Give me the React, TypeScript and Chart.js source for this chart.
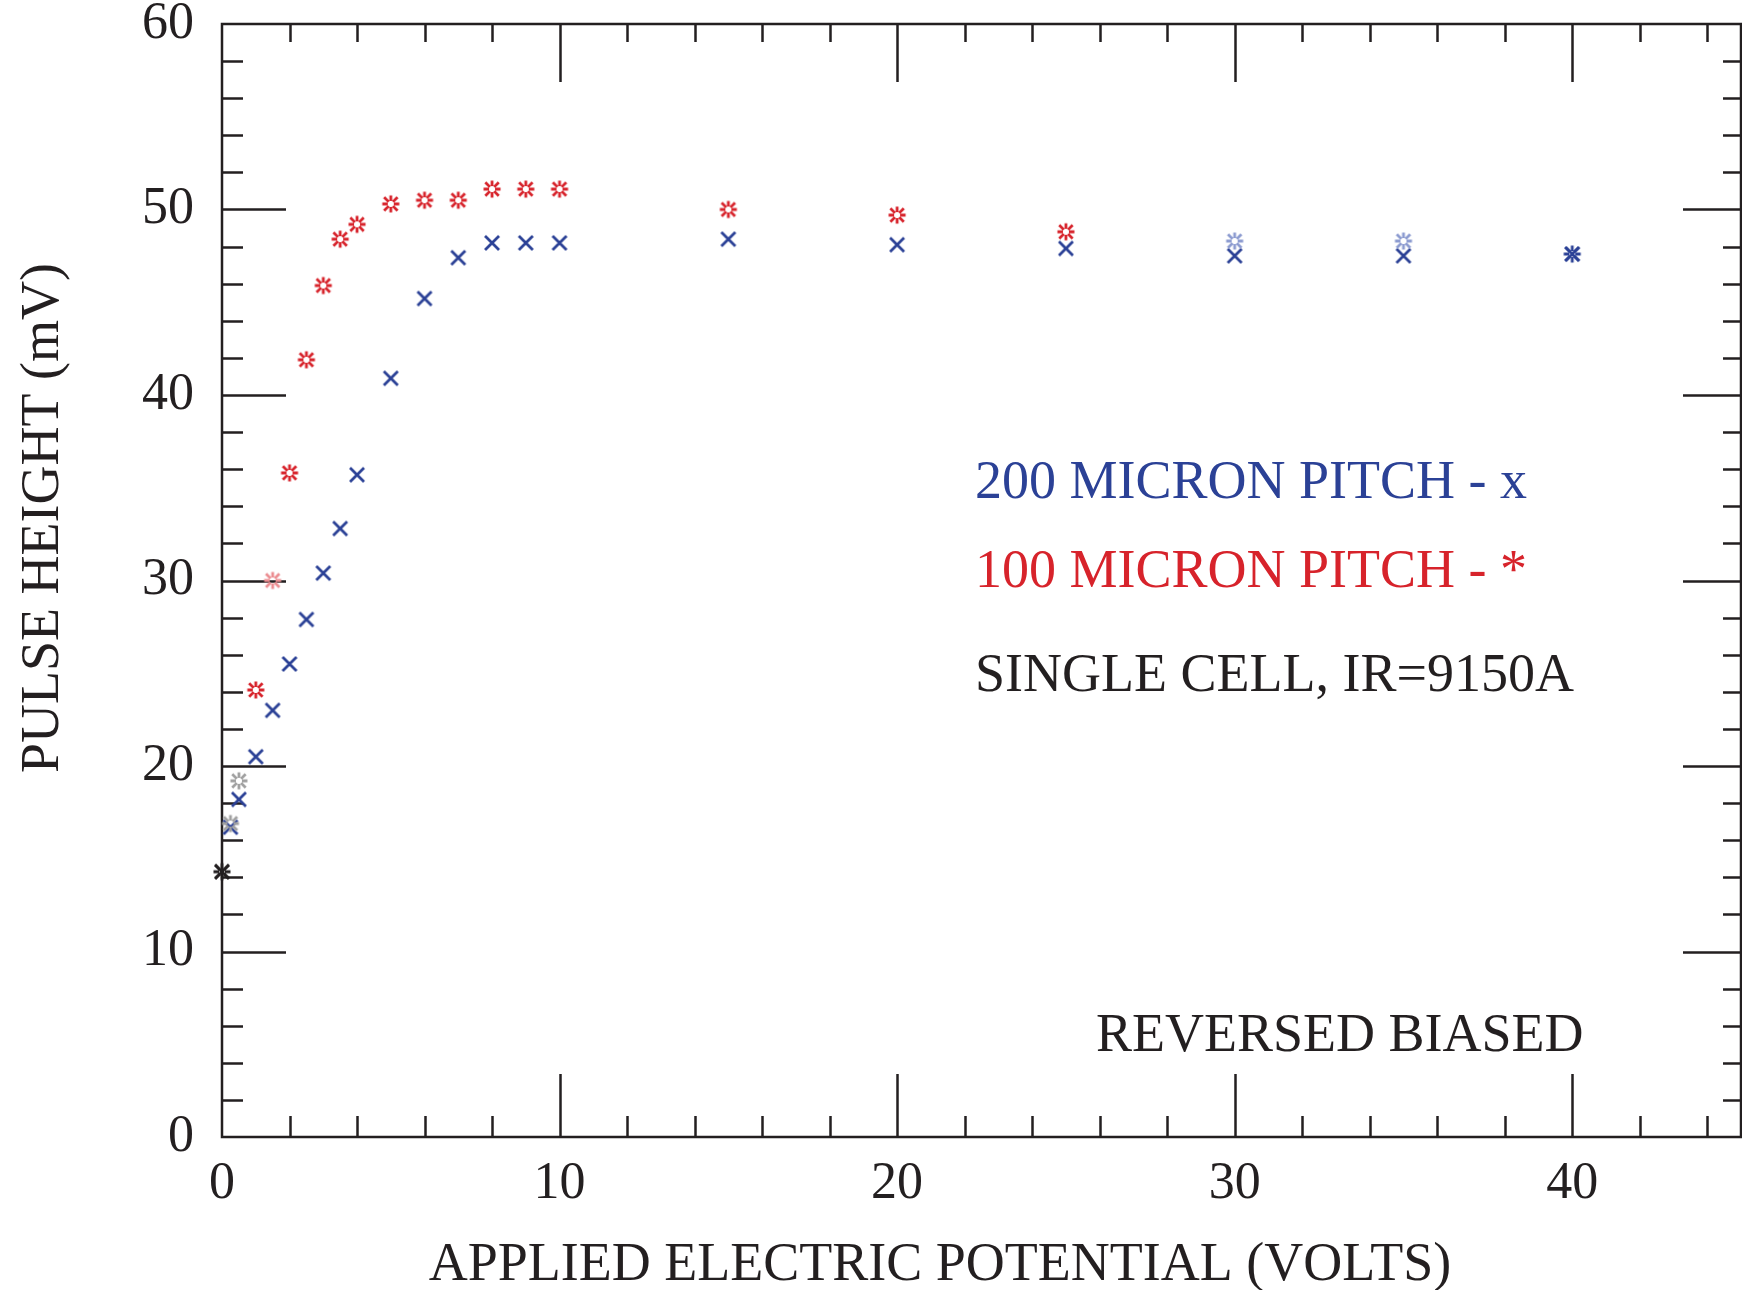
import React, { useEffect, useRef } from 'react';
import { Chart, registerables } from 'chart.js';

Chart.register(...registerables);

// ---- data ----
const VOLTS = [0, 0.25, 0.5, 1, 1.5, 2, 2.5, 3, 3.5, 4, 5, 6, 7, 8, 9, 10, 15, 20, 25, 30, 35, 40];
const PITCH_200 = [14.3, 16.7, 18.2, 20.5, 23.0, 25.5, 27.9, 30.4, 32.8, 35.7, 40.9, 45.2, 47.4, 48.2, 48.2, 48.2, 48.4, 48.1, 47.9, 47.5, 47.5, 47.6];
const PITCH_100 = [14.3, 16.9, 19.2, 24.1, 30.0, 35.8, 41.9, 45.9, 48.4, 49.2, 50.3, 50.5, 50.5, 51.1, 51.1, 51.1, 50.0, 49.7, 48.8, 48.3, 48.3, 47.6];
const X_TICKS = [0, 10, 20, 30, 40];
const Y_TICKS = [0, 10, 20, 30, 40, 50, 60];
const X_MAX = 45;
const Y_MAX = 60;
const X_TITLE = 'APPLIED ELECTRIC POTENTIAL (VOLTS)';
const Y_TITLE = 'PULSE HEIGHT (mV)';
const NOTE_200 = '200 MICRON PITCH - x';
const NOTE_100 = '100 MICRON PITCH - *';
const NOTE_CELL = 'SINGLE CELL, IR=9150A';
const NOTE_BIAS = 'REVERSED BIASED';

// ---- styles ----
const INK = '#231f20';
const BLUE = '#2b4196';
const RED = '#d7232b';
const GREY = '#a0a0a0';
const LIGHT_RED = '#eb8c90';
const LIGHT_BLUE = '#8c9bd0';
const FONT = '"Liberation Serif", "Times New Roman", serif';

const COLORS_200 = VOLTS.map((_, i) => (i === 0 ? INK : BLUE));
const COLORS_100 = VOLTS.map((_, i) => {
  if (i === 0) return INK;
  if (i === 1 || i === 2) return GREY;
  if (i === 4) return LIGHT_RED;
  if (i === 19 || i === 20) return LIGHT_BLUE;
  if (i === 21) return BLUE;
  return RED;
});

const markerCache: Record<string, HTMLCanvasElement> = {};

function makeCross(color: string): HTMLCanvasElement {
  const key = 'x' + color;
  if (markerCache[key]) return markerCache[key];
  const c = document.createElement('canvas');
  c.width = 20; c.height = 20;
  const g = c.getContext('2d')!;
  g.strokeStyle = color;
  g.lineWidth = 2.8;
  g.lineCap = 'butt';
  g.beginPath();
  g.moveTo(3, 3); g.lineTo(17, 17);
  g.moveTo(17, 3); g.lineTo(3, 17);
  g.stroke();
  markerCache[key] = c;
  return c;
}

function makeStar(color: string): HTMLCanvasElement {
  const key = 's' + color;
  if (markerCache[key]) return markerCache[key];
  const c = document.createElement('canvas');
  c.width = 20; c.height = 20;
  const g = c.getContext('2d')!;
  g.strokeStyle = color;
  g.lineWidth = 2.8;
  g.beginPath();
  for (let k = 0; k < 8; k++) {
    const a = (k * Math.PI) / 4;
    const r0 = 3;
    const r1 = k % 2 === 0 ? 8.5 : 9.5;
    g.moveTo(10 + r0 * Math.cos(a), 10 + r0 * Math.sin(a));
    g.lineTo(10 + r1 * Math.cos(a), 10 + r1 * Math.sin(a));
  }
  g.stroke();
  markerCache[key] = c;
  return c;
}

const framePlugin = {
  id: 'frame',
  beforeDatasetsDraw(chart: any) {
    const { ctx, chartArea: a, scales } = chart;
    const x = scales.x;
    const y = scales.y;
    ctx.save();
    ctx.strokeStyle = INK;
    ctx.lineWidth = 2.5;
    ctx.strokeRect(a.left, a.top, a.right - a.left, a.bottom - a.top);
    ctx.beginPath();
    for (let v = 2; v < X_MAX; v += 2) {
      const px = Math.round(x.getPixelForValue(v)) + 0.5;
      const major = v % 10 === 0;
      ctx.moveTo(px, a.bottom);
      ctx.lineTo(px, a.bottom - (major ? 63 : 21));
      ctx.moveTo(px, a.top);
      ctx.lineTo(px, a.top + (major ? 58 : 18));
    }
    for (let v = 2; v < Y_MAX; v += 2) {
      const py = Math.round(y.getPixelForValue(v)) + 0.5;
      const major = v % 10 === 0;
      ctx.moveTo(a.left, py);
      ctx.lineTo(a.left + (major ? 64 : 21), py);
      ctx.moveTo(a.right, py);
      ctx.lineTo(a.right - (major ? 58 : 18), py);
    }
    ctx.stroke();
    ctx.restore();
  },
  afterDraw(chart: any) {
    const { ctx } = chart;
    ctx.save();
    ctx.font = `54px ${FONT}`;
    ctx.textBaseline = 'alphabetic';
    ctx.fillStyle = INK;
    ctx.textAlign = 'center';
    ctx.fillText(X_TITLE, 940, 1280);
    ctx.save();
    ctx.translate(58, 518);
    ctx.rotate(-Math.PI / 2);
    ctx.fillText(Y_TITLE, 0, 0);
    ctx.restore();
    ctx.textAlign = 'left';
    ctx.fillStyle = BLUE;
    ctx.fillText(NOTE_200, 975, 498);
    ctx.fillStyle = RED;
    ctx.fillText(NOTE_100, 975, 587);
    ctx.fillStyle = INK;
    ctx.fillText(NOTE_CELL, 975, 691);
    ctx.fillText(NOTE_BIAS, 1096, 1051);
    ctx.restore();
  },
};

export default function App() {
  const ref = useRef<HTMLCanvasElement | null>(null);
  useEffect(() => {
    if (!ref.current) return;
    const chart = new Chart(ref.current, {
      type: 'scatter',
      data: {
        datasets: [
          {
            label: '100 MICRON PITCH',
            data: VOLTS.map((v, i) => ({ x: v, y: PITCH_100[i] })),
            pointStyle: (c: any) => makeStar(COLORS_100[c.dataIndex] || RED),
            pointRadius: 10,
            showLine: false,
            clip: false,
          } as any,
          {
            label: '200 MICRON PITCH',
            data: VOLTS.map((v, i) => ({ x: v, y: PITCH_200[i] })),
            pointStyle: (c: any) => makeCross(COLORS_200[c.dataIndex] || BLUE),
            pointRadius: 10,
            showLine: false,
            clip: false,
          } as any,
        ],
      },
      options: {
        animation: false,
        responsive: false,
        devicePixelRatio: 1,
        layout: { autoPadding: false, padding: { top: 24, right: 1, left: 0, bottom: 0 } },
        plugins: { legend: { display: false }, tooltip: { enabled: false } },
        scales: {
          x: {
            type: 'linear',
            position: 'bottom',
            min: 0,
            max: X_MAX,
            grid: { display: false, drawTicks: false },
            border: { display: false },
            afterBuildTicks: (s: any) => { s.ticks = X_TICKS.map((v) => ({ value: v })); },
            afterFit: (s: any) => {
              s.height = 153;
              s.paddingLeft = 0; s.paddingRight = 0; s.paddingTop = 0; s.paddingBottom = 0;
            },
            ticks: {
              color: INK,
              font: { family: FONT, size: 52 },
              padding: 16,
              maxRotation: 0,
              autoSkip: false,
            },
          },
          y: {
            type: 'linear',
            position: 'left',
            min: 0,
            max: Y_MAX,
            grid: { display: false, drawTicks: false },
            border: { display: false },
            afterBuildTicks: (s: any) => { s.ticks = Y_TICKS.map((v) => ({ value: v })); },
            afterFit: (s: any) => {
              s.width = 222;
              s.paddingLeft = 0; s.paddingRight = 0; s.paddingTop = 0; s.paddingBottom = 0;
            },
            ticks: {
              color: INK,
              font: { family: FONT, size: 52 },
              padding: 28,
              autoSkip: false,
            },
          },
        },
      } as any,
      plugins: [framePlugin],
    });
    return () => chart.destroy();
  }, []);
  return (
    <canvas
      ref={ref}
      width={1742}
      height={1290}
      style={{ position: 'absolute', left: 0, top: 0, width: 1742, height: 1290, display: 'block', background: '#fff' }}
    />
  );
}
